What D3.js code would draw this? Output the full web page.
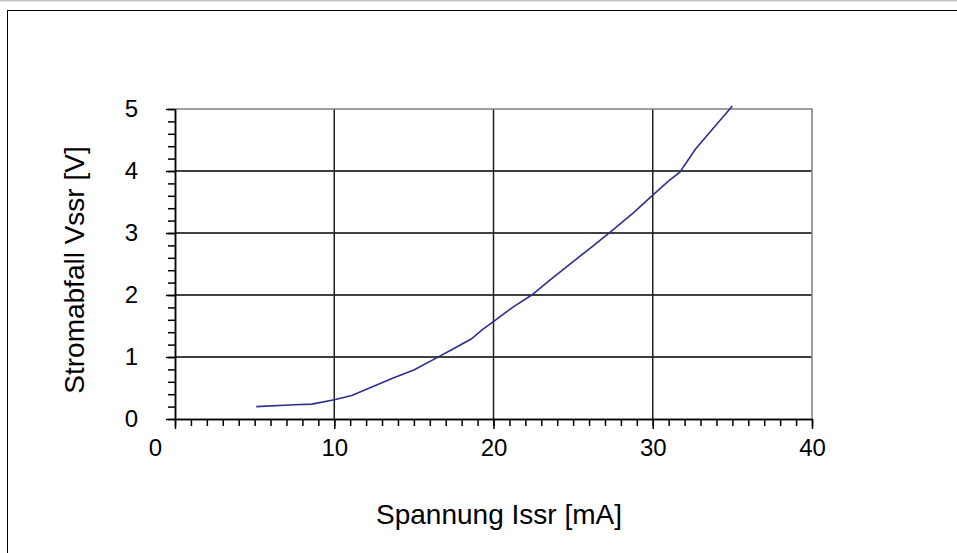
<!DOCTYPE html>
<html>
<head>
<meta charset="utf-8">
<script src="https://cdn.jsdelivr.net/npm/d3@7"></script>
<style>
  html, body { margin: 0; padding: 0; background: #fff; }
  svg { display: block; font-family: "Liberation Sans", Arial, sans-serif; }
</style>
</head>
<body>
<svg id="chart" width="957" height="553"></svg>
<script>
// Issr [mA] vs Vssr [V]
const currentMA = [5.1, 7.5, 8.6, 10.0, 11.1, 12.4, 13.7, 15.0, 16.6, 17.6, 18.6, 19.3, 20.1,
    21.2, 22.4, 23.5, 25.0, 26.3, 27.5, 28.8, 30.0, 31.0, 31.7, 32.7, 33.8, 35.0]
const voltageV = [0.20, 0.23, 0.24, 0.31, 0.38, 0.52, 0.66, 0.79, 1.01, 1.15, 1.29, 1.44, 1.59,
    1.80, 2.00, 2.23, 2.54, 2.80, 3.05, 3.33, 3.61, 3.84, 3.98, 4.36, 4.69, 5.05]

const xTicks = [0, 10, 20, 30, 40]
const yTicks = [0, 1, 2, 3, 4, 5]
const xTitle = 'Spannung Issr [mA]'
const yTitle = 'Stromabfall Vssr [V]'

const width = 957, height = 553
const plot = { left: 175, right: 812, top: 109, bottom: 419 }

const svg = d3.select('#chart')

// outer frame
svg.append('line')
    .attr('x1', 0).attr('x2', width)
    .attr('y1', 0.5).attr('y2', 0.5)
    .attr('stroke', '#c4c4c4')
    .attr('stroke-width', 2)
svg.append('rect')
    .attr('x', 7.5).attr('y', 10.5)
    .attr('width', width).attr('height', height)
    .attr('fill', 'none')
    .attr('stroke', '#000')
    .attr('stroke-width', 1)

const x = d3.scaleLinear().domain([0, 40]).range([plot.left, plot.right])
const y = d3.scaleLinear().domain([0, 5]).range([plot.bottom, plot.top])

// grid
svg.append('g')
    .selectAll('line')
    .data(yTicks.slice(1, -1))
    .join('line')
        .attr('x1', plot.left).attr('x2', plot.right)
        .attr('y1', d => y(d)).attr('y2', d => y(d))
        .attr('stroke', '#000')
        .attr('stroke-width', 1.5)
svg.append('g')
    .selectAll('line')
    .data(xTicks.slice(1, -1))
    .join('line')
        .attr('x1', d => x(d)).attr('x2', d => x(d))
        .attr('y1', plot.top).attr('y2', plot.bottom)
        .attr('stroke', '#222')
        .attr('stroke-width', 1.5)

// plot border (top / right)
svg.append('path')
    .attr('d', `M${plot.left},${plot.top}H${plot.right}V${plot.bottom}`)
    .attr('fill', 'none')
    .attr('stroke', '#808080')
    .attr('stroke-width', 1.5)

// minor ticks
const xMinor = d3.range(0, 41, 1)
const yMinor = d3.range(0, 5.01, 0.2)

svg.append('g')
    .attr('transform', `translate(0, ${plot.bottom})`)
    .call(d3.axisBottom(x).tickValues(xMinor).tickSize(7).tickSizeOuter(0).tickFormat(''))
const xMajor = svg.append('g')
    .attr('transform', `translate(0, ${plot.bottom})`)
    .call(d3.axisBottom(x).tickValues(xTicks).tickSize(10).tickSizeOuter(0)
        .tickPadding(10).tickFormat(d3.format('d')))

svg.append('g')
    .attr('transform', `translate(${plot.left}, 0)`)
    .call(d3.axisLeft(y).tickValues(yMinor).tickSize(7).tickSizeOuter(0).tickFormat(''))
svg.append('g')
    .attr('transform', `translate(${plot.left}, 0)`)
    .call(d3.axisLeft(y).tickValues(yTicks).tickSize(9).tickSizeOuter(0)
        .tickPadding(28).tickFormat(d3.format('d')))

svg.selectAll('.domain, .tick line')
    .attr('stroke', '#000')
    .attr('stroke-width', 1.5)

svg.selectAll('.tick text')
    .attr('fill', '#000')
    .style('font-size', '24px')
    .style('font-family', '"Liberation Sans", Arial, sans-serif')

// excel pushes the "0" label left off the y axis
xMajor.selectAll('.tick text')
    .filter(d => d === 0)
    .attr('dx', -20)

// series
const line = d3.line()
    .x(d => x(d[0]))
    .y(d => y(d[1]))

svg.append('path')
    .datum(d3.zip(currentMA, voltageV))
    .attr('d', line)
    .attr('fill', 'none')
    .attr('stroke', '#2e2e8f')
    .attr('stroke-width', 1.6)

// titles
svg.append('text')
    .attr('x', 499)
    .attr('y', 524)
    .attr('text-anchor', 'middle')
    .style('font-size', '28px')
    .text(xTitle)

svg.append('text')
    .attr('transform', `translate(84, ${(plot.top + plot.bottom) / 2 + 6}) rotate(-90)`)
    .attr('text-anchor', 'middle')
    .style('font-size', '28px')
    .text(yTitle)
</script>
</body>
</html>
